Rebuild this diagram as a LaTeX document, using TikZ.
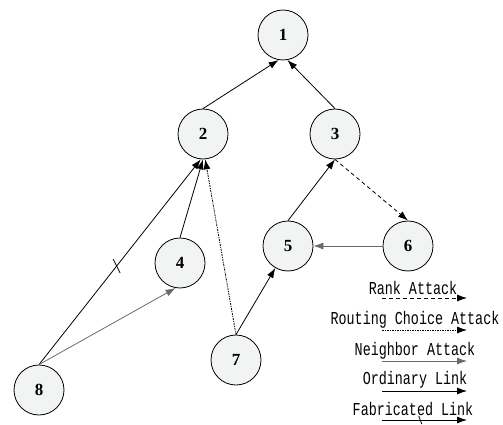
\documentclass[tikz,border=0pt]{standalone}
\usepackage{fontspec}
\setmainfont{Liberation Serif}
\newfontfamily\legfont{Liberation Mono}
\usetikzlibrary{arrows.meta}
\definecolor{nodefill}{HTML}{F2F3F3}
\definecolor{graylink}{HTML}{6A6A6A}
\tikzset{
  vertex/.style={circle,draw=black,line width=0.8pt,fill=nodefill,minimum size=50pt,inner sep=0pt,font=\fontsize{17}{17}\selectfont\bfseries},
  link/.style={line width=0.8pt,-{Latex[length=10pt,width=7pt]}},
  ranklink/.style={link,dash pattern=on 4pt off 3pt},
  routelink/.style={link,dash pattern=on 2pt off 1pt on 1pt off 1pt},
  neighlink/.style={link,draw=graylink,line width=0.8pt},
  legtext/.style={font=\legfont\fontsize{13}{13}\selectfont,inner sep=0pt}
}
\newcommand{\legtxt}[1]{\scalebox{1.03}[1.4]{#1}}
\begin{document}
\begin{tikzpicture}[x=1pt,y=-1pt]
\useasboundingbox (0,0) rectangle (503,425);
\node[vertex] (n1) at (283,35) {1};
\node[vertex] (n2) at (203,134) {2};
\node[vertex] (n3) at (335,134) {3};
\node[vertex] (n4) at (180,263) {4};
\node[vertex] (n5) at (288,246) {5};
\node[vertex] (n6) at (408,246) {6};
\node[vertex] (n7) at (236,360) {7};
\node[vertex] (n8) at (39,390) {8};
% edges
\draw[link] (n2.north) -- (n1.-100);
\draw[link] (n3.north) -- (n1.-80);
\draw[link] (n5.north) -- (n3.south);
\draw[ranklink] (n3.south) -- (n6.north);
\draw[neighlink] (n6.west) -- (n5.east);
\draw[link] (n7.north) -- (n5.-120);
\draw[routelink] (n7.north) -- (n2.-85);
\draw[link] (n4.north) -- (n2.south);
\draw[link] (n8.north) -- (n2.-95) coordinate[pos=0.48] (tk) ;
\draw[line width=0.8pt] ([shift={(-3.5,-7)}]tk) -- ([shift={(3.5,7)}]tk);
\draw[neighlink] (n8.north) -- (n4.-100);
% legend
\node[legtext] (t1) at (413,288) {\legtxt{Rank Attack}};
\node[legtext] (t2) at (415,320) {\legtxt{Routing Choice Attack}};
\node[legtext] (t3) at (415,351) {\legtxt{Neighbor Attack}};
\node[legtext] (t4) at (415,380) {\legtxt{Ordinary Link}};
\node[legtext] (t5) at (413,409) {\legtxt{Fabricated Link}};
\coordinate (a1) at (382,298); \coordinate (b1) at (467,298);
\coordinate (a2) at (382,330); \coordinate (b2) at (467,330);
\coordinate (a3) at (382,361); \coordinate (b3) at (467,361);
\coordinate (a4) at (382,391); \coordinate (b4) at (467,391);
\coordinate (a5) at (382,420); \coordinate (b5) at (467,420);
\draw[ranklink] (a1) -- (b1);
\draw[routelink] (a2) -- (b2);
\draw[neighlink] (a3) -- (b3);
\draw[link] (a4) -- (b4);
\draw[link] (a5) -- (b5) coordinate[pos=0.45] (tk2);
\draw[line width=0.8pt] ([shift={(-1.5,-4)}]tk2) -- ([shift={(1.5,4)}]tk2);
\end{tikzpicture}
\end{document}
